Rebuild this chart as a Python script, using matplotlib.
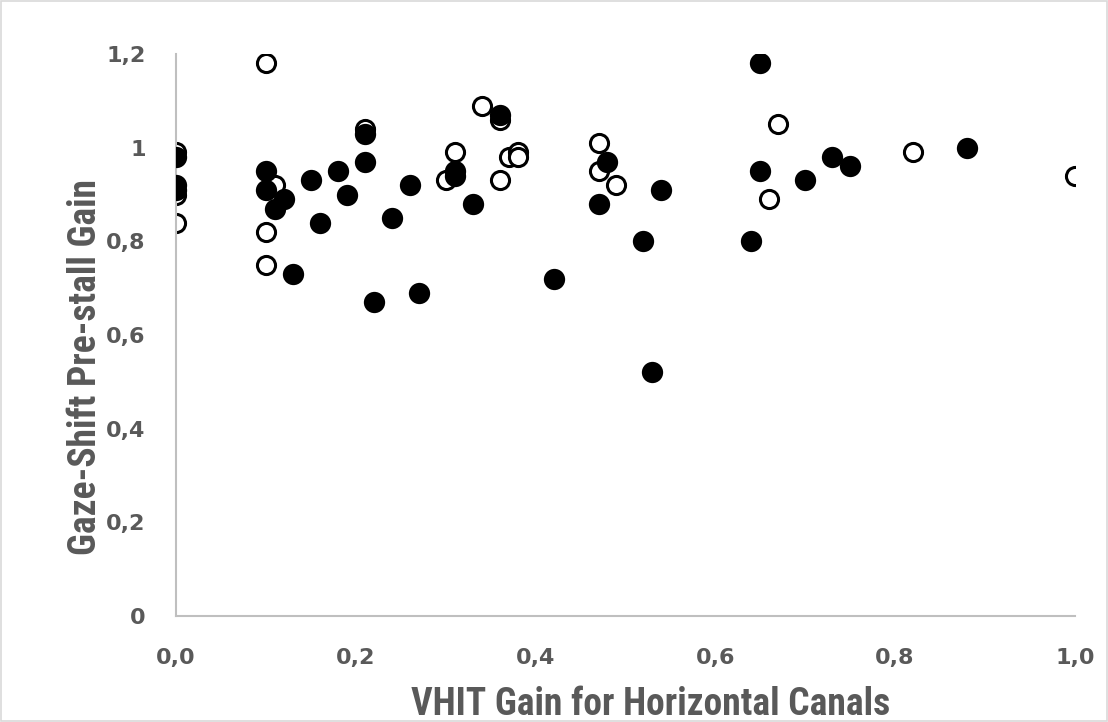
import matplotlib
matplotlib.use("Agg")
import matplotlib.pyplot as plt
import matplotlib.font_manager as fm
from matplotlib.patches import Rectangle
from matplotlib.ticker import FuncFormatter

# open circles
open_x = [0.00, 0.00, 0.00, 0.10, 0.11, 0.10, 0.10, 0.21, 0.30, 0.31, 0.34, 0.36,
          0.36, 0.37, 0.38, 0.38, 0.47, 0.47, 0.49, 0.67, 0.66, 0.82, 1.00]
open_y = [0.99, 0.90, 0.84, 1.18, 0.92, 0.82, 0.75, 1.04, 0.93, 0.99, 1.09, 1.06,
          0.93, 0.98, 0.99, 0.98, 1.01, 0.95, 0.92, 1.05, 0.89, 0.99, 0.94]

# filled circles
filled_x = [0.00, 0.00, 0.00, 0.10, 0.10, 0.12, 0.11, 0.13, 0.15, 0.16, 0.18, 0.19,
            0.21, 0.21, 0.22, 0.24, 0.26, 0.27, 0.31, 0.31, 0.33, 0.36, 0.42, 0.48,
            0.47, 0.52, 0.53, 0.54, 0.64, 0.65, 0.65, 0.70, 0.73, 0.75, 0.88]
filled_y = [0.98, 0.92, 0.91, 0.95, 0.91, 0.89, 0.87, 0.73, 0.93, 0.84, 0.95, 0.90,
            1.03, 0.97, 0.67, 0.85, 0.92, 0.69, 0.95, 0.94, 0.88, 1.07, 0.72, 0.97,
            0.88, 0.80, 0.52, 0.91, 0.80, 1.18, 0.95, 0.93, 0.98, 0.96, 1.00]

x_ticks = [0.0, 0.2, 0.4, 0.6, 0.8, 1.0]
y_ticks = [0, 0.2, 0.4, 0.6, 0.8, 1.0, 1.2]

grey = '#595959'

# narrow font for the axis titles, if one is there
installed = {f.name for f in fm.fontManager.ttflist}
title_family = 'DejaVu Sans'
title_stretch = 'condensed'
for name in ['Liberation Sans Narrow', 'Roboto Condensed', 'Open Sans Condensed']:
    if name in installed:
        title_family = name
        title_stretch = 'normal'
        break

fig = plt.figure(figsize=(11.08, 7.22), dpi=100)
ax = fig.add_axes([0.159, 0.1468, 0.811, 0.7784])

ax.scatter(open_x, open_y, s=170, facecolors='white', edgecolors='black',
           linewidths=2.2, zorder=2)
ax.scatter(filled_x, filled_y, s=235, color='black', linewidths=0, zorder=3)

ax.set_xlim(0, 1.0)
ax.set_ylim(0, 1.2)
ax.set_xticks(x_ticks)
ax.set_yticks(y_ticks)
ax.xaxis.set_major_formatter(FuncFormatter(lambda v, p: f'{v:.1f}'.replace('.', ',')))
ax.yaxis.set_major_formatter(FuncFormatter(lambda v, p: f'{v:g}'.replace('.', ',')))
ax.tick_params(length=0, labelsize=16, labelcolor=grey)
ax.tick_params(axis='x', pad=23)
ax.tick_params(axis='y', pad=22)
for lab in ax.get_xticklabels() + ax.get_yticklabels():
    lab.set_fontweight('bold')

for side in ['top', 'right']:
    ax.spines[side].set_visible(False)
for side in ['left', 'bottom']:
    ax.spines[side].set_color('#BFBFBF')
    ax.spines[side].set_linewidth(1.5)

ax.set_xlabel('VHIT Gain for Horizontal Canals', fontsize=27, fontweight='bold',
              color=grey, family=title_family, fontstretch=title_stretch, va='center')
ax.set_ylabel('Gaze-Shift Pre-stall Gain', fontsize=27, fontweight='bold',
              color=grey, family=title_family, fontstretch=title_stretch, va='center')
ax.xaxis.set_label_coords(0.528, -0.1566)
ax.yaxis.set_label_coords(-0.101, 0.443)

fig.patches.append(Rectangle((0.001, 0.001), 0.998, 0.998, transform=fig.transFigure,
                             fill=False, edgecolor='#D9D9D9', linewidth=1.2))

fig.savefig('out.png', dpi=100)
